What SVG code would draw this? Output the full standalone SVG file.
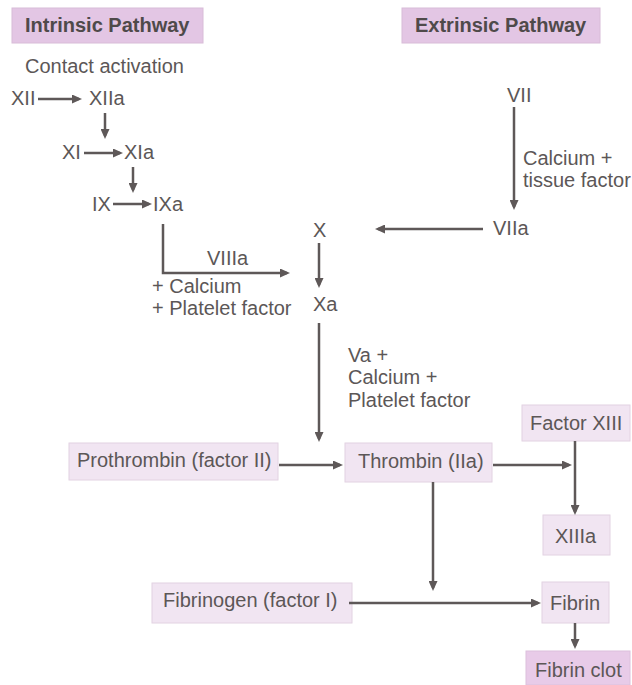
<svg xmlns="http://www.w3.org/2000/svg" width="632" height="685" viewBox="0 0 632 685">
<defs>
<marker id="ah" viewBox="0 0 10 9" markerWidth="10" markerHeight="9" markerUnits="userSpaceOnUse" refX="7" refY="4.5" orient="auto">
<path d="M0,0 L10,4.5 L0,9 z" fill="#5e5858"/>
</marker>
</defs>
<style>
text{font-family:"Liberation Sans",Arial,sans-serif;font-size:20px;fill:#5c5757}
.hd{font-weight:bold;fill:#4f4a4a}
.hbox{fill:#e3c6e4;stroke:#d8bcd8;stroke-width:1}
.box{fill:#f1e5f2;stroke:#e2d2e2;stroke-width:1}
.clot{fill:#e8cbe8;stroke:#dcc0dc;stroke-width:1}
.c line,.c polyline{stroke:#5e5858;stroke-width:2.5;fill:none;marker-end:url(#ah)}
</style>
<rect width="632" height="685" fill="#ffffff"/>
<g id="intrinsic"><rect class="hbox" x="12" y="8" width="191" height="35"/><text class="hd" x="25" y="32">Intrinsic Pathway</text></g>
<g id="extrinsic"><rect class="hbox" x="402" y="8" width="198" height="35"/><text class="hd" x="415" y="32">Extrinsic Pathway</text></g>
<g id="contact"><text x="25" y="73">Contact activation</text></g>
<g id="XII"><text x="11" y="105">XII</text></g>
<g id="XIIa"><text x="89" y="105">XIIa</text></g>
<g id="XI"><text x="62" y="159">XI</text></g>
<g id="XIa"><text x="124" y="159">XIa</text></g>
<g id="IX"><text x="92" y="211">IX</text></g>
<g id="IXa"><text x="153" y="211">IXa</text></g>
<g id="VIIIa"><text x="207" y="265">VIIIa</text><text x="152" y="293">+ Calcium</text><text x="152" y="315">+ Platelet factor</text></g>
<g id="X"><text x="313" y="237">X</text></g>
<g id="Xa"><text x="313" y="311">Xa</text></g>
<g id="Va"><text x="348" y="362">Va +</text><text x="348" y="384">Calcium +</text><text x="348" y="407">Platelet factor</text></g>
<g id="VII"><text x="507" y="102">VII</text></g>
<g id="tissue"><text x="523" y="165">Calcium +</text><text x="523" y="187">tissue factor</text></g>
<g id="VIIa"><text x="493" y="235">VIIa</text></g>
<g id="prothrombin"><rect class="box" x="69" y="443" width="209" height="37"/><text x="77" y="467">Prothrombin (factor II)</text></g>
<g id="thrombin"><rect class="box" x="345" y="443" width="147" height="39"/><text x="358" y="468">Thrombin (IIa)</text></g>
<g id="factorXIII"><rect class="box" x="522" y="405" width="108" height="36"/><text x="530" y="430">Factor XIII</text></g>
<g id="XIIIa"><rect class="box" x="543" y="515" width="67" height="40"/><text x="555" y="543">XIIIa</text></g>
<g id="fibrinogen"><rect class="box" x="152" y="583" width="200" height="40"/><text x="163" y="607">Fibrinogen (factor I)</text></g>
<g id="fibrin"><rect class="box" x="542" y="582" width="67" height="41"/><text x="550" y="610">Fibrin</text></g>
<g id="fibrinclot"><rect class="clot" x="526" y="651" width="104" height="34"/><text x="535" y="677">Fibrin clot</text></g>
<g id="connectors" class="c">
<line x1="38" y1="99" x2="79" y2="99"/>
<line x1="105" y1="113" x2="105" y2="136"/>
<line x1="84" y1="153" x2="120" y2="153"/>
<line x1="133" y1="167" x2="133" y2="190"/>
<line x1="113" y1="204" x2="149" y2="204"/>
<polyline points="163,224 163,273 287,273"/>
<line x1="319" y1="243" x2="319" y2="285"/>
<line x1="319" y1="323" x2="319" y2="439"/>
<line x1="514" y1="107" x2="514" y2="207"/>
<line x1="483" y1="229" x2="378" y2="229"/>
<line x1="279" y1="465" x2="340" y2="465"/>
<line x1="493" y1="465" x2="569" y2="465"/>
<line x1="575" y1="441" x2="575" y2="512"/>
<line x1="433" y1="482" x2="433" y2="588"/>
<line x1="349" y1="603" x2="538" y2="603"/>
<line x1="575" y1="623" x2="575" y2="646"/>
</g>
</svg>
